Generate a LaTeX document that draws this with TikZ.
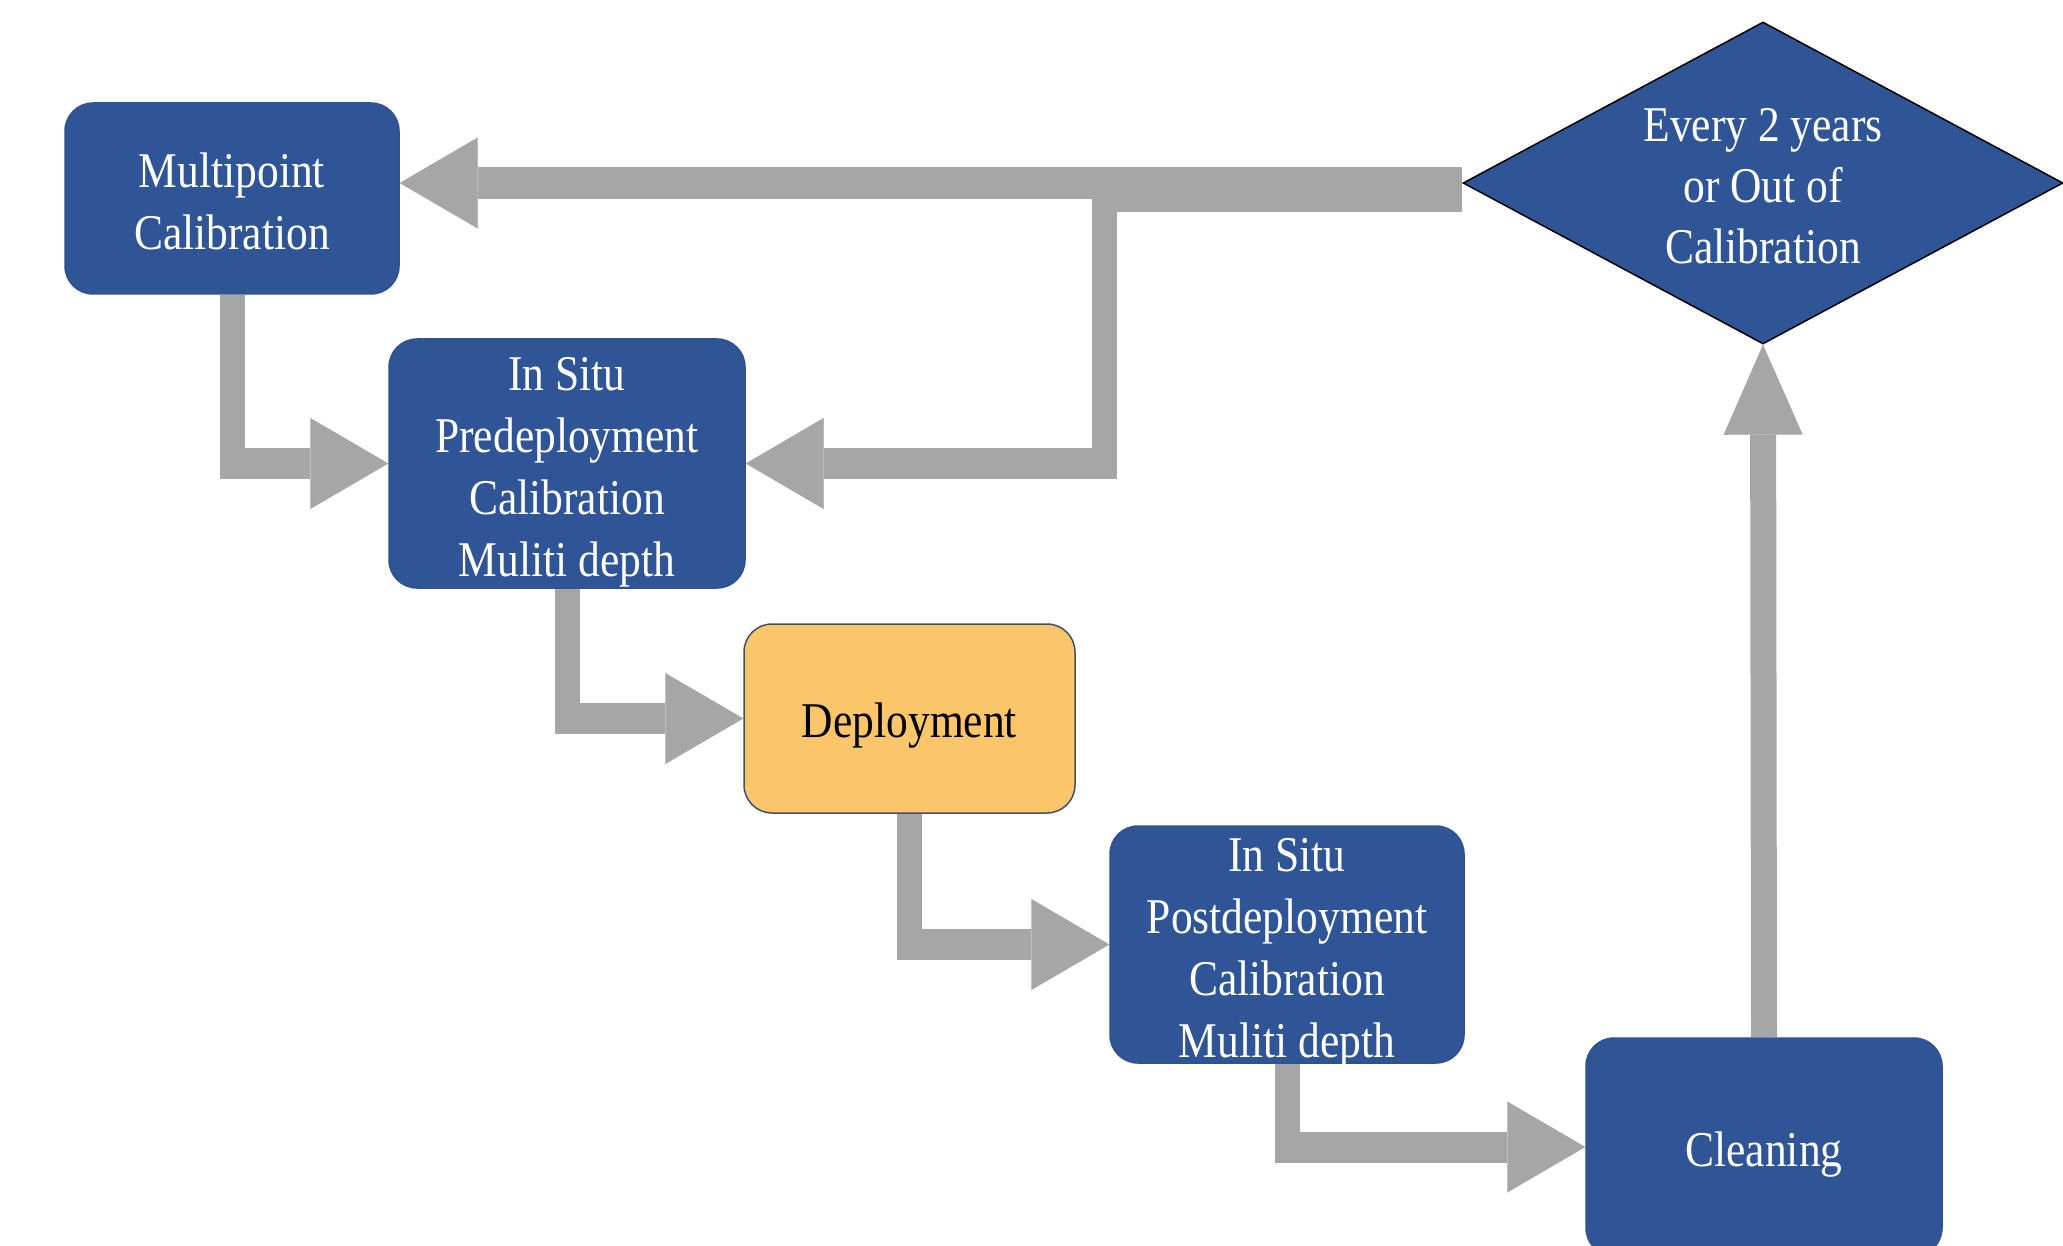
\documentclass[tikz,border=0pt]{standalone}
\usepackage{fontspec}
\setmainfont[FakeStretch=0.87]{Liberation Serif}
\usetikzlibrary{arrows.meta,shapes.geometric,calc,backgrounds}
\definecolor{boxblue}{HTML}{2F5597}
\definecolor{boxedge}{HTML}{2F528F}
\definecolor{depfill}{HTML}{FBC56A}
\definecolor{depedge}{HTML}{3E5070}
\definecolor{arrowgray}{HTML}{A6A6A6}
\tikzset{
  procbox/.style={rectangle, rounded corners=28pt, fill=boxblue, draw=boxedge, line width=1.5pt,
    inner sep=0pt},
  depbox/.style={procbox, fill=depfill, draw=depedge},
  decision/.style={diamond, aspect=1.863, fill=boxblue, draw=black, line width=1.5pt,
    inner sep=0pt, minimum width=600pt, minimum height=322pt},
  boxtext/.style={text=white, align=center, inner sep=0pt, font=\fontsize{50}{62}\selectfont},
  deptext/.style={boxtext, text=black},
  diatext/.style={boxtext, font=\fontsize{50}{61}\selectfont},
  hshaft/.style={draw=arrowgray, line width=31pt},
  vshaft/.style={draw=arrowgray, line width=25pt},
  htip/.style={-{Triangle[length=78pt,width=91pt,line width=0.1pt]}},
  vtip/.style={-{Triangle[length=90pt,width=79pt,line width=0.1pt]}},
}
\begin{document}
\begin{tikzpicture}[x=1pt,y=-1pt]
\useasboundingbox (0,0) rectangle (2063,1246);

\node[procbox, minimum width=334pt, minimum height=191pt] (mp) at (232,198.5) {};
\node[procbox, minimum width=356pt, minimum height=249pt] (pre) at (567,463.5) {};
\node[depbox, minimum width=331pt, minimum height=189pt] (dep) at (909.5,718.5) {};
\node[procbox, minimum width=354pt, minimum height=237pt] (post) at (1287,944.5) {};
\node[procbox, minimum width=356pt, minimum height=218pt] (cl) at (1764,1147) {};
\node[decision] (dia) at (1763,183) {};

\node[boxtext] (mp-t) at ([yshift=-3pt]mp.center) {Multipoint\\Calibration};
\node[boxtext] (pre-t) at ([yshift=-9pt]pre.center) {In Situ\\Predeployment\\Calibration\\Muliti depth};
\node[deptext] (dep-t) at ([yshift=-7pt]dep.center) {Deployment};
\node[boxtext] (post-t) at ([yshift=-8.5pt]post.center) {In Situ\\Postdeployment\\Calibration\\Muliti depth};
\node[boxtext] (cl-t) at ([yshift=-8pt]cl.center) {Cleaning};
\node[diatext] (dia-t) at ([yshift=-3pt]dia.center) {Every 2 years\\or Out of\\Calibration};

\begin{scope}[on background layer]
  % diamond -> multipoint
  \draw[hshaft, line width=32pt, htip] (dia.west) -- (dia.west -| mp.east);
  % diamond -> predeployment
  \coordinate (c7start) at ($(dia.west)+(0,14)$);
  \coordinate (c7turn) at (1104,197);
  \coordinate (c7low) at (c7turn |- pre.east);
  \draw[hshaft, line width=30pt] (c7start) -- ($(c7turn)+(-12.5,0)$);
  \draw[vshaft] ($(c7turn)+(0,-15)$) -- ($(c7low)+(0,15.5)$);
  \draw[hshaft, htip] ($(c7low)+(12.5,0)$) -- (pre.east);
  % multipoint -> predeployment
  \coordinate (c1) at (mp.south |- pre.west);
  \draw[vshaft] (mp.south) -- ($(c1)+(0,15.5)$);
  \draw[hshaft, htip] ($(c1)+(-12.5,0)$) -- (pre.west);
  % predeployment -> deployment
  \coordinate (c2) at (pre.south |- dep.west);
  \draw[vshaft] (pre.south) -- ($(c2)+(0,15.5)$);
  \draw[hshaft, htip] ($(c2)+(-12.5,0)$) -- (dep.west);
  % deployment -> postdeployment
  \coordinate (c3) at (dep.south |- post.west);
  \draw[vshaft] (dep.south) -- ($(c3)+(0,15.5)$);
  \draw[hshaft, htip] ($(c3)+(-12.5,0)$) -- (post.west);
  % postdeployment -> cleaning
  \coordinate (c4) at (post.south |- cl.west);
  \draw[vshaft] (post.south) -- ($(c4)+(0,15.5)$);
  \draw[hshaft, htip] ($(c4)+(-12.5,0)$) -- (cl.west);
  % cleaning -> diamond
  \draw[vshaft, line width=26pt, vtip] (cl.north) -- (dia.south);
\end{scope}
\end{tikzpicture}
\end{document}
